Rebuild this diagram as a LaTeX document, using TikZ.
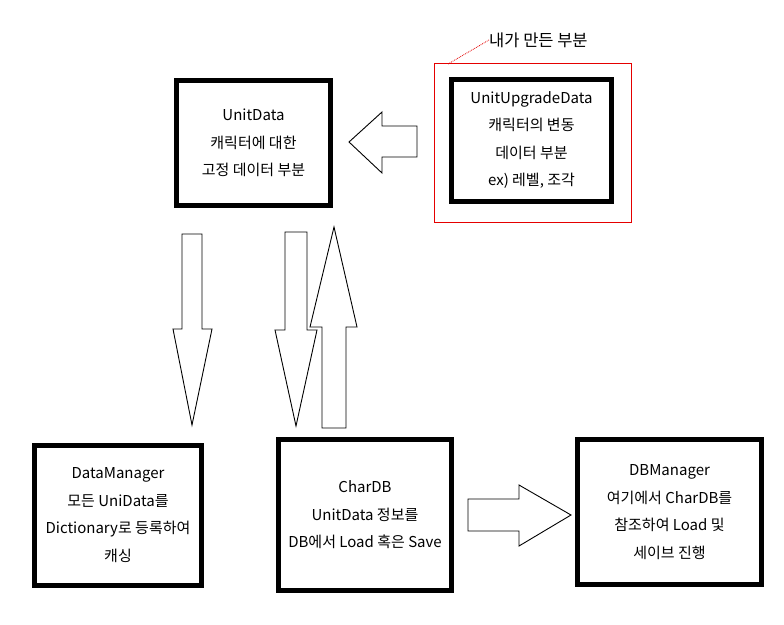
\documentclass[tikz,border=0pt]{standalone}
\usepackage{fontspec}
\setmainfont{Noto Sans CJK KR}
\begin{document}
\begin{tikzpicture}[x=1pt,y=-1pt,
  box/.style={draw=black,line width=5pt,fill=white,align=center,inner sep=0pt,
    font=\fontsize{15}{27.5}\selectfont},
  blockarrow/.style={draw=black,line width=0.9pt,fill=white,line join=miter},
  redbox/.style={draw=red!90!black,line width=1pt}]
\useasboundingbox[fill=white] (0,0) rectangle (784,624);

% red highlight
\node[redbox,minimum width=197pt,minimum height=159pt] (red) at (532.5,142.5) {};
\coordinate (redc) at (448,64);
\node[anchor=west,inner sep=0pt,font=\fontsize{16.5}{18}\selectfont] (lbl) at (489,40) {내가 만든 부분};
\draw[red!90!black,line width=0.8pt,densely dotted] (redc) -- (lbl.west);

% boxes
\node[box,minimum width=154pt,minimum height=125pt] (ud) at (253.5,143) {UnitData\\캐릭터에 대한\\고정 데이터 부분};
\node[box,minimum width=160pt,minimum height=122pt] (uud) at (531.5,140) {UnitUpgradeData\\캐릭터의 변동\\데이터 부분\\ex) 레벨, 조각};
\node[box,minimum width=167pt,minimum height=140pt] (dm) at (118,515) {DataManager\\모든 UniData를\\Dictionary로 등록하여\\캐싱};
\node[box,minimum width=173pt,minimum height=151pt] (cdb) at (365,515) {CharDB\\UnitData 정보를\\DB에서 Load 혹은 Save};
\node[box,minimum width=184pt,minimum height=145pt] (dbm) at (669.5,512) {DBManager\\여기에서 CharDB를\\참조하여 Load 및\\세이브 진행};

% block arrows
\draw[blockarrow] (349,142) -- (382,112) -- (382,126) -- (417,126) -- (417,157) -- (382,157) -- (382,173) -- cycle;
\draw[blockarrow] (182,234) -- (202,234) -- (202,329) -- (212,329) -- (192,425) -- (173,329) -- (182,329) -- cycle;
\draw[blockarrow] (285,232) -- (307,232) -- (307,330) -- (317,330) -- (296,426) -- (275,330) -- (285,330) -- cycle;
\draw[blockarrow] (334,227) -- (357,327) -- (346,327) -- (346,428) -- (322,428) -- (322,327) -- (310,327) -- cycle;
\draw[blockarrow] (468,499) -- (519,499) -- (519,485) -- (571,515) -- (519,546) -- (519,531) -- (468,531) -- cycle;
\end{tikzpicture}
\end{document}
